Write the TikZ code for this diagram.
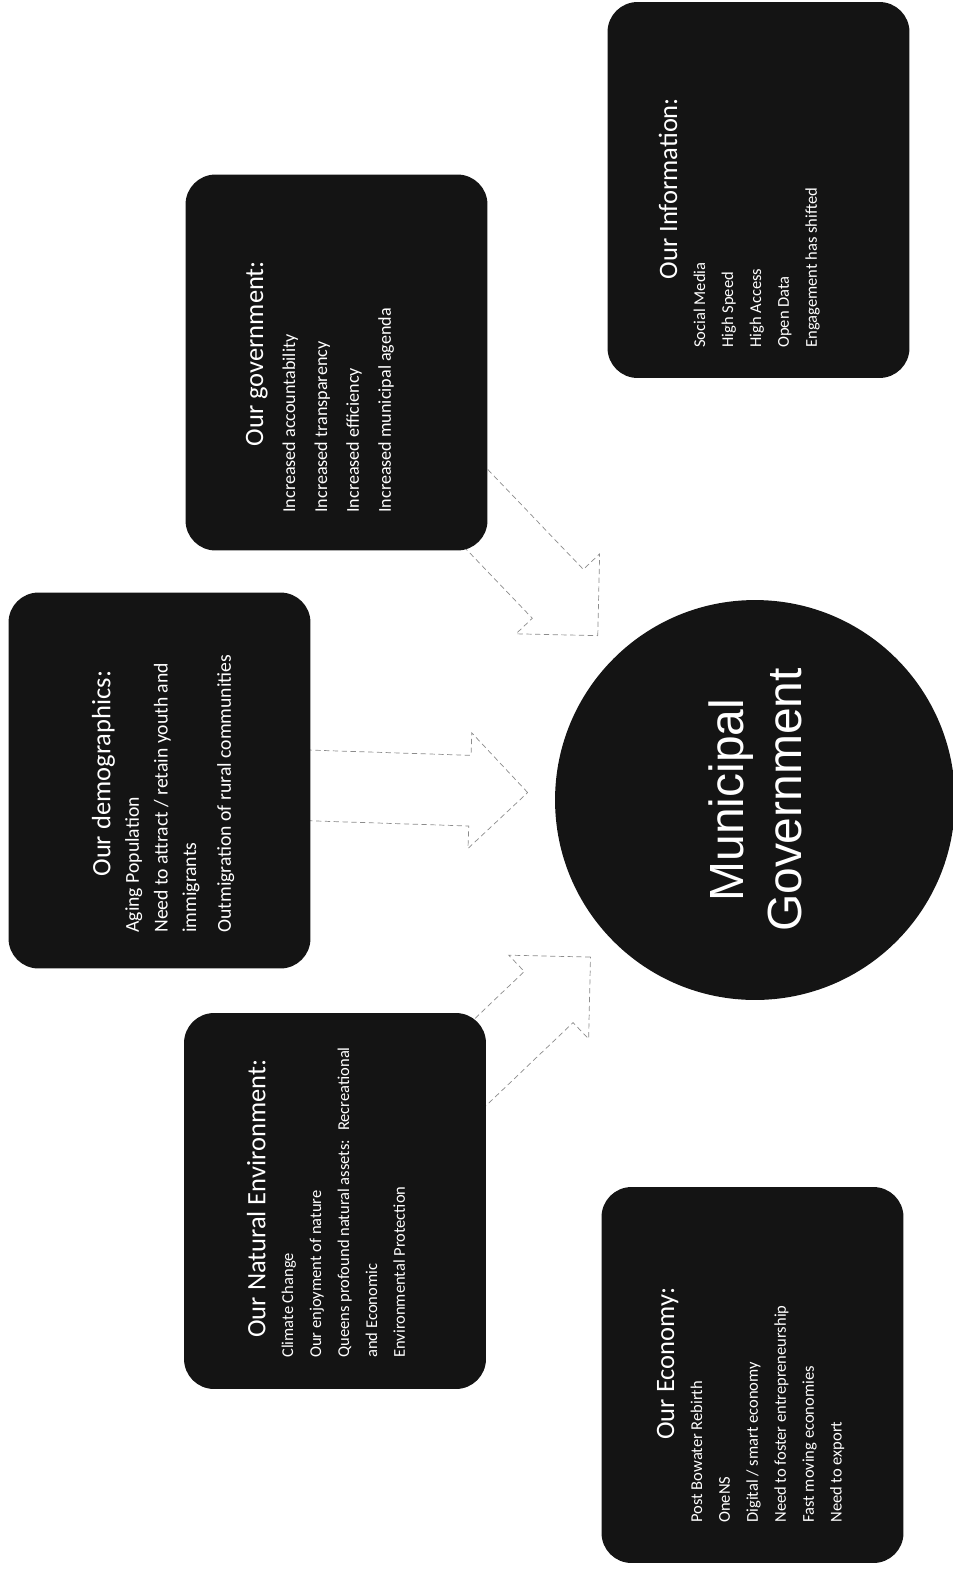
\documentclass[tikz,border=0pt]{standalone}
\usepackage{fontspec}
\setmainfont{Carlito}
\newfontfamily\arialfont{Liberation Sans}
\usetikzlibrary{shapes.arrows,calc,backgrounds}

\newcommand{\boxhead}[1]{{\centering\fontsize{15.1}{18}\selectfont #1\par}}

\tikzset{
  panel/.style={fill=black!92, rounded corners=0.6cm, minimum width=6.04cm,
    minimum height=7.52cm, inner sep=0pt},
  paneltext/.style={text=white, rotate=90, anchor=north west, inner sep=0pt,
    text width=6.36cm, align=flush left, font=\fontsize{9.4}{15.9}\selectfont},
  flow/.style={single arrow, single arrow tip angle=90, single arrow head extend=0.45cm,
    inner xsep=0pt, inner ysep=0.7cm, fill=white, draw=black!45, densely dashed,
    line width=0.4pt, minimum height=4cm},
}

\begin{document}
\begin{tikzpicture}[x=0.02cm, y=-0.02cm]
  \useasboundingbox (0,0) rectangle (953,1569);

  % the five panels
  \node[panel] (info) at (758.5,190) {};
  \node[panel] (gov) at (336.5,362.5) {};
  \node[panel] (demog) at (159.5,780.5) {};
  \node[panel] (env) at (335,1201) {};
  \node[panel] (econ) at (752.5,1375) {};

  % centre
  \node[circle, fill=black!92, minimum size=8cm, text=white, rotate=90, align=center,
    font=\arialfont\fontsize{27.3}{33}\selectfont] (mg) at (755,800) {Municipal\\Government};

  % panel texts
  \node[paneltext] (infotext) at (658.5,348) {\boxhead{Our Information:}
    Social Media\\High Speed\\High Access\\Open Data\\Engagement has shifted};
  \node[paneltext, font=\fontsize{10.3}{18.2}\selectfont] (govtext) at (245.5,513) {\boxhead{Our government:}
    Increased accountability\\Increased transparency\\Increased efficiency\\Increased municipal agenda};
  \node[paneltext, font=\fontsize{11.2}{16.3}\selectfont] (demogtext) at (91.5,933) {\boxhead{Our demographics:}
    Aging Population\\\mbox{Need to attract / retain youth and}\\immigrants\\[3.4pt]\mbox{Outmigration of rural communities}};
  \node[paneltext] (envtext) at (246.5,1358) {\boxhead{Our Natural Environment:}
    Climate Change\\Our enjoyment of nature\\\mbox{Queens profound natural assets:~ Recreational}\\and Economic\\Environmental Protection};
  \node[paneltext] (econtext) at (656.5,1523) {\boxhead{Our Economy:}
    Post Bowater Rebirth\\OneNS\\Digital / smart economy\\\mbox{Need to foster entrepreneurship}\\Fast moving economies\\Need to export};

  % arrows into the centre
  \begin{scope}[on background layer]
    \path (gov) -- ($(mg)!4.54cm!(gov)$) node[flow, at end, sloped, anchor=tip] (govarrow) {};
    \path (demog) -- ($(mg)!4.54cm!(demog)$) node[flow, at end, sloped, anchor=tip, minimum height=4.8cm] (demogarrow) {};
    \path (env) -- ($(mg)!4.54cm!(env)$) node[flow, at end, sloped, anchor=tip] (envarrow) {};
  \end{scope}
\end{tikzpicture}
\end{document}
